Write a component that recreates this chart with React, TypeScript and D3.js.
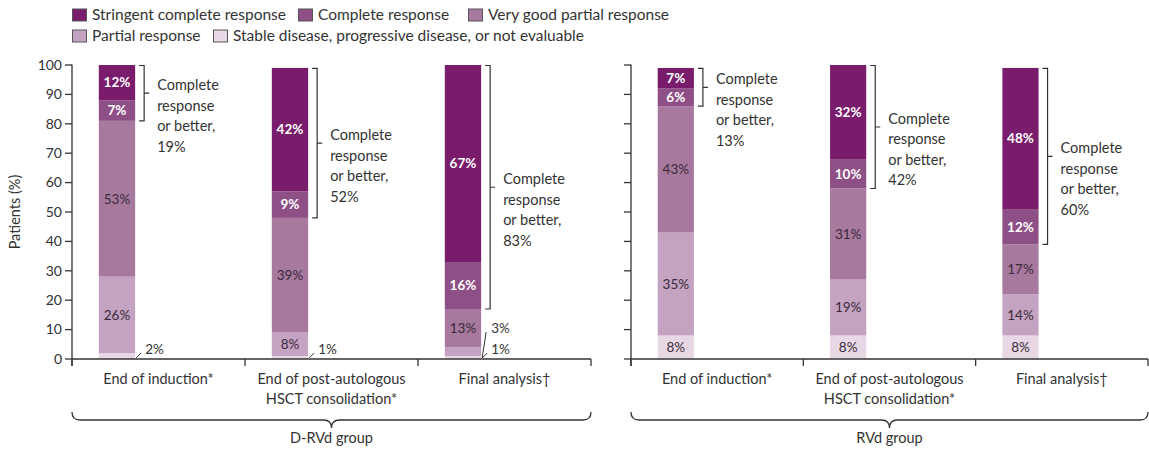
import React from "react";
import * as d3 from "d3";

// Response categories, bottom of the stack to the top
const responseKeys = ["sd", "pr", "vgpr", "cr", "scr"];
const responseNames = [
  "Stable disease, progressive disease, or not evaluable",
  "Partial response",
  "Very good partial response",
  "Complete response",
  "Stringent complete response",
];
const responseColors = ["#e8d8e6", "#c4a2c1", "#a7799f", "#8e4f86", "#7a1c6c"];

const timepoints = [
  "End of induction*",
  "End of post-autologous\nHSCT consolidation*",
  "Final analysis†",
];
const groupNames = ["D-RVd group", "RVd group"];

// D-RVd group (%)
const drvdSD = [2, 1, 1];
const drvdPR = [26, 8, 3];
const drvdVGPR = [53, 39, 13];
const drvdCR = [7, 9, 16];
const drvdSCR = [12, 42, 67];
const drvdCRorBetter = [19, 52, 83];

// RVd group (%)
const rvdSD = [8, 8, 8];
const rvdPR = [35, 19, 14];
const rvdVGPR = [43, 31, 17];
const rvdCR = [6, 10, 12];
const rvdSCR = [7, 32, 48];
const rvdCRorBetter = [13, 42, 60];

const yTicks = [0, 10, 20, 30, 40, 50, 60, 70, 80, 90, 100];

const FONT = "Lato, 'Open Sans', sans-serif";
const INK = "#333333";

type Row = { [k: string]: number | string };

function buildRows(sd: number[], pr: number[], vgpr: number[], cr: number[], scr: number[]): Row[] {
  return timepoints.map((t, i) => ({ t, sd: sd[i], pr: pr[i], vgpr: vgpr[i], cr: cr[i], scr: scr[i] }));
}

const groupsData = [
  { name: groupNames[0], rows: buildRows(drvdSD, drvdPR, drvdVGPR, drvdCR, drvdSCR), crb: drvdCRorBetter },
  { name: groupNames[1], rows: buildRows(rvdSD, rvdPR, rvdVGPR, rvdCR, rvdSCR), crb: rvdCRorBetter },
];

const W = 1149;
const H = 450;
const y = d3.scaleLinear().domain([0, 100]).range([359, 65]);
const panelRanges: [number, number][] = [
  [72, 591],
  [631, 1148],
];

function Panel({ gi }: { gi: number }) {
  const g = groupsData[gi];
  const [x0, x1] = panelRanges[gi];
  const x = d3.scaleBand<string>().domain(timepoints).range([x0, x1]).paddingInner(0).paddingOuter(0);
  const bw = x.bandwidth();
  const barW = bw * 0.21;
  const stack = d3.stack<Row>().keys(responseKeys).value((d, k) => d[k] as number);
  const series = stack(g.rows);
  const mid = (x0 + x1) / 2;

  // curly brace under the panel
  const by0 = 412;
  const by1 = 420;
  const by2 = 428;
  const r = 8;
  const brace =
    `M${x0},${by0} Q${x0},${by1} ${x0 + r},${by1} L${mid - r},${by1} Q${mid},${by1} ${mid},${by2}` +
    ` Q${mid},${by1} ${mid + r},${by1} L${x1 - r},${by1} Q${x1},${by1} ${x1},${by0}`;

  return (
    <g>
      {/* stacked bars */}
      {series.map((s, si) => (
        <g key={s.key}>
          {s.map((d, i) => {
            const bx = (x(timepoints[i]) as number) + bw * 0.155;
            return (
              <rect
                key={i}
                x={bx}
                y={y(d[1])}
                width={barW}
                height={y(d[0]) - y(d[1])}
                fill={responseColors[si]}
              />
            );
          })}
        </g>
      ))}

      {/* segment labels */}
      {timepoints.map((t, i) => {
        const bx = (x(t) as number) + bw * 0.155;
        const right = bx + barW;
        const cx = bx + barW / 2;
        const outside: { v: number; y0: number; y1: number }[] = [];
        const inside = series.map((s, si) => {
          const d = s[i];
          const v = d[1] - d[0];
          if (v < 5) {
            outside.push({ v, y0: d[0], y1: d[1] });
            return null;
          }
          const light = si >= 3;
          return (
            <text
              key={s.key}
              x={cx}
              y={(y(d[0]) + y(d[1])) / 2 + 4.8}
              textAnchor="middle"
              fontSize={13.5}
              fontWeight={light ? 700 : 400}
              fill={light ? "#ffffff" : "#3a2a38"}
            >
              {v}%
            </text>
          );
        });
        // small segments get a label beside the bar with a short leader line
        const out = outside.map((o, k) => {
          const ly = y(0) - 10 - k * 21;
          const sy = y(0) - 1;
          const ex = k === 0 ? right + 6 : right + 5;
          const ey = k === 0 ? sy - 5 : ly + 4;
          return (
            <g key={"o" + k}>
              <line x1={right + 1} y1={sy} x2={ex} y2={ey} stroke={INK} strokeWidth={1} />
              <text x={right + 10} y={ly + 5} fontSize={13.5} fill={INK}>
                {o.v}%
              </text>
            </g>
          );
        });
        // "complete response or better" bracket over CR + sCR
        const top = series[4][i][1];
        const bot = series[3][i][0];
        const bxl = right + 9;
        const yt = y(top) + 0.5;
        const yb = y(bot);
        const ym = (yt + yb) / 2;
        const lines = ["Complete", "response", "or better,", `${g.crb[i]}%`];
        return (
          <g key={t}>
            {inside}
            {out}
            <path
              d={`M${bxl - 5},${yt} H${bxl} V${yb} H${bxl - 5} M${bxl},${ym} H${bxl + 5}`}
              fill="none"
              stroke={INK}
              strokeWidth={1.2}
            />
            <text x={right + 22} y={ym - 3} fontSize={14.5} fill={INK}>
              {lines.map((l, li) => (
                <tspan key={li} x={right + 22} dy={li === 0 ? 0 : 20.5}>
                  {l}
                </tspan>
              ))}
            </text>
          </g>
        );
      })}

      {/* y axis */}
      <line x1={x0} x2={x0} y1={y(100) - 0.5} y2={y(0) + 7} stroke={INK} strokeWidth={1.3} />
      {yTicks.map((tk) => (
        <g key={tk}>
          <line x1={x0 - 7} x2={x0} y1={y(tk)} y2={y(tk)} stroke={INK} strokeWidth={1.3} />
          {gi === 0 && (
            <text x={x0 - 10} y={y(tk) + 4.8} textAnchor="end" fontSize={14} fill={INK}>
              {tk}
            </text>
          )}
        </g>
      ))}

      {/* x axis with category separators */}
      <line x1={x0} x2={x1} y1={y(0)} y2={y(0)} stroke={INK} strokeWidth={1.3} />
      {[...timepoints.map((t) => x(t) as number), x1].map((px, k) => (
        <line key={k} x1={px} x2={px} y1={y(0)} y2={y(0) + 7} stroke={INK} strokeWidth={1.3} />
      ))}
      {timepoints.map((t) => {
        const cx = (x(t) as number) + bw / 2;
        return (
          <text key={t} x={cx} y={384} textAnchor="middle" fontSize={14.5} fill={INK}>
            {t.split("\n").map((l, li) => (
              <tspan key={li} x={cx} dy={li === 0 ? 0 : 20}>
                {l}
              </tspan>
            ))}
          </text>
        );
      })}

      {/* group brace */}
      <path d={brace} fill="none" stroke={INK} strokeWidth={1.3} />
      <text x={mid} y={443} textAnchor="middle" fontSize={14.5} fill={INK}>
        {g.name}
      </text>
    </g>
  );
}

function Legend() {
  // legend entries in reading order: sCR, CR, VGPR / PR, SD
  const order = [4, 3, 2, 1, 0];
  const pos: [number, number][] = [
    [72, 15],
    [298, 15],
    [468, 15],
    [72, 36],
    [213, 36],
  ];
  return (
    <g>
      {order.map((si, k) => (
        <g key={si} transform={`translate(${pos[k][0]},${pos[k][1]})`}>
          <rect x={0.5} y={-6} width={14} height={12} fill={responseColors[si]} stroke="#555" strokeWidth={1} />
          <text x={20} y={5.2} fontSize={15.5} fill={INK}>
            {responseNames[si]}
          </text>
        </g>
      ))}
    </g>
  );
}

export default function App() {
  return (
    <svg
      width={W}
      height={H}
      viewBox={`0 0 ${W} ${H}`}
      style={{ position: "absolute", left: 0, top: 0, background: "#fff" }}
      fontFamily={FONT}
    >
      <rect width={W} height={H} fill="#fff" />
      <Legend />
      <text transform={`translate(20,${y(50)}) rotate(-90)`} textAnchor="middle" fontSize={14.5} fill={INK}>
        Patients (%)
      </text>
      <Panel gi={0} />
      <Panel gi={1} />
    </svg>
  );
}
